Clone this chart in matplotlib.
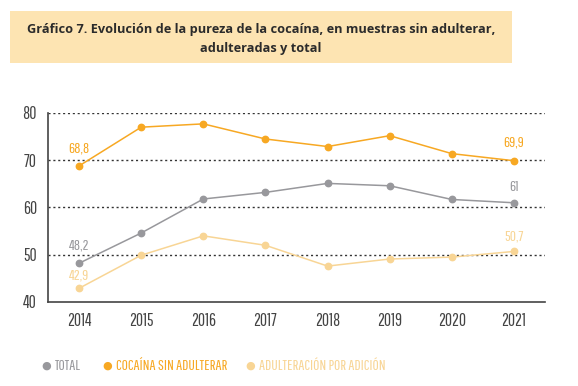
import matplotlib.pyplot as plt
from matplotlib.patches import Rectangle

years = ['2014', '2015', '2016', '2017', '2018', '2019', '2020', '2021']
total = [48.2, 54.6, 61.8, 63.2, 65.1, 64.6, 61.7, 61.0]
sin_adulterar = [68.8, 77.0, 77.7, 74.5, 72.9, 75.2, 71.4, 69.9]
por_adicion = [42.9, 49.9, 54.0, 52.0, 47.6, 49.1, 49.5, 50.7]

series_names = ['TOTAL', 'COCAÍNA SIN ADULTERAR', 'ADULTERACIÓN POR ADICIÓN']
colors = ['#98989c', '#f7a823', '#f8d595']

cond = ['Pathway Gothic One', 'Oswald', 'DejaVu Sans']

fig = plt.figure(figsize=(5.78, 3.86), dpi=100)

# caja del titulo
fig.patches.append(Rectangle((10 / 578, 1 - 63 / 386), 502 / 578, 52 / 386,
                             transform=fig.transFigure, facecolor='#fde4b2',
                             edgecolor='none', zorder=0))
fig.text(261 / 578, 1 - 39 / 386,
         'Gráfico 7. Evolución de la pureza de la cocaína, en muestras sin adulterar,\nadulteradas y total',
         ha='center', va='center', fontsize=9.2, fontweight='bold',
         family=['Open Sans', 'DejaVu Sans'], color='#2b2b2b', linespacing=1.6)

ax = fig.add_axes([48 / 578, 1 - 302 / 386, 497 / 578, 189 / 386])
x = list(range(len(years)))

for vals, c in zip([total, sin_adulterar, por_adicion], colors):
    ax.plot(x, vals, color=c, lw=1.1, marker='o', ms=4.6, zorder=3)

# etiquetas de los extremos (desplazamiento vertical en puntos)
offsets = [(8, 6), (8, 8), (4, 6)]
for vals, c, offs in zip([total, sin_adulterar, por_adicion], colors, offsets):
    for i, off in zip((0, len(years) - 1), offs):
        txt = ('%g' % vals[i]).replace('.', ',')
        ax.annotate(txt, (x[i], vals[i]), xytext=(0, off), textcoords='offset points',
                    ha='center', va='bottom', color=c, fontsize=11, family=cond)

ax.set_xlim(-0.5, 7.5)
ax.set_ylim(40, 80)
ax.set_yticks([40, 50, 60, 70, 80])
ax.set_xticks(x)
ax.set_xticklabels(years)
for y in [50, 60, 70, 80]:
    ax.axhline(y, color='#333333', lw=1.0, ls=(0, (1.5, 2)), zorder=1)

for s in ['top', 'right']:
    ax.spines[s].set_visible(False)
for s in ['left', 'bottom']:
    ax.spines[s].set_color('#444444')
    ax.spines[s].set_linewidth(1.2)
ax.tick_params(length=0, colors='#444444', labelsize=12.5)
ax.tick_params(axis='x', pad=8)
ax.tick_params(axis='y', pad=8)
for lab in ax.get_xticklabels() + ax.get_yticklabels():
    lab.set_family(cond)

# leyenda
leg_x = [46, 107, 250]
for lx, name, c in zip(leg_x, series_names, colors):
    fig.text(lx / 578, 1 - 366 / 386, '●', color=c, fontsize=8, ha='center', va='center',
             family='DejaVu Sans')
    fig.text((lx + 9) / 578, 1 - 366 / 386, name, color=c, fontsize=11,
             ha='left', va='center', family=cond)

fig.savefig('out.png', dpi=100)
